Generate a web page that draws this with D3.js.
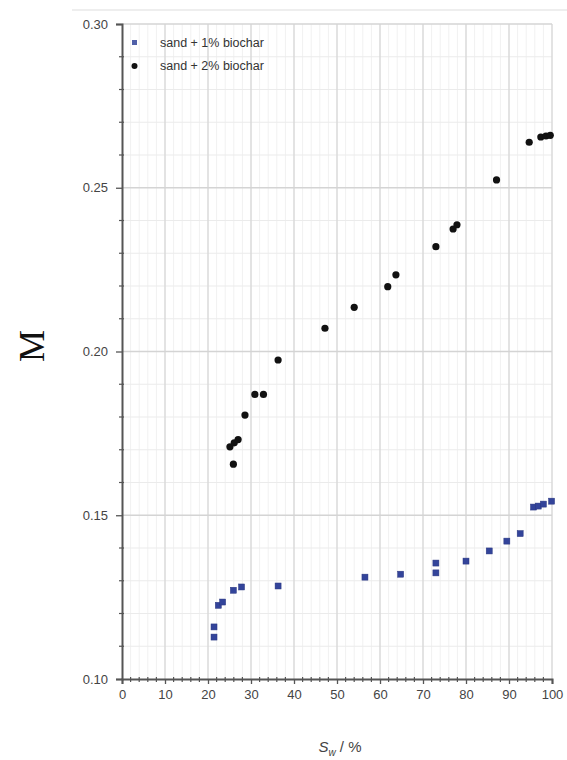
<!DOCTYPE html>
<html><head><meta charset="utf-8">
<script src="https://cdn.jsdelivr.net/npm/d3@7"></script>
<style>body{margin:0;background:#fff}svg{display:block}</style>
</head><body>
<svg id="c" width="567" height="760"></svg>
<script>
// Data: sand + 1% biochar (blue squares)
const s1x = [21.4,21.4,22.4,23.4,25.9,27.8,36.3,56.5,64.8,73.0,73.0,80.0,85.4,89.5,92.6,95.7,96.8,98.0,99.9];
const s1y = [0.1128,0.1159,0.1225,0.1235,0.1271,0.1281,0.1284,0.1311,0.1320,0.1324,0.1354,0.1360,0.1391,0.1421,0.1444,0.1525,0.1528,0.1534,0.1543];
// sand + 2% biochar (black circles)
const s2x = [25.9,25.1,26.1,27.0,28.6,30.9,32.9,36.3,47.2,54.0,61.8,63.7,73.0,77.0,77.9,87.1,94.7,97.4,98.6,99.6];
const s2y = [0.1656,0.1709,0.1721,0.1731,0.1806,0.1869,0.1869,0.1974,0.2071,0.2135,0.2198,0.2234,0.2320,0.2374,0.2387,0.2524,0.2639,0.2655,0.2658,0.2660];
const seriesNames = ["sand + 1% biochar","sand + 2% biochar"];
const xTicks = [0,10,20,30,40,50,60,70,80,90,100];
const yTicks = [0.10,0.15,0.20,0.25,0.30];

const svg = d3.select("#c");
const L=122, R=552, T=24, B=679;
const x = d3.scaleLinear().domain([0,100]).range([L,R]);
const y = d3.scaleLinear().domain([0.10,0.30]).range([B,T]);

// top stray line
svg.append("line").attr("x1",72).attr("x2",567).attr("y1",10).attr("y2",10).attr("stroke","#ddd").attr("stroke-width",1);

// minor grid
const g = svg.append("g");
const xMinor = d3.range(0,101,2).filter(v=>v%10!==0);
const yMinor = d3.range(10,31,1).map(v=>v/100).filter(v=>Math.round(v*100)%5!==0);
g.selectAll(".vmin").data(xMinor).join("line").attr("x1",d=>x(d)).attr("x2",d=>x(d)).attr("y1",T).attr("y2",B).attr("stroke","#f1f1f1").attr("stroke-width",1);
g.selectAll(".hmin").data(yMinor).join("line").attr("x1",L).attr("x2",R).attr("y1",d=>y(d)).attr("y2",d=>y(d)).attr("stroke","#ebebeb").attr("stroke-width",1.2);
g.selectAll(".vmaj").data(xTicks.slice(1)).join("line").attr("x1",d=>x(d)).attr("x2",d=>x(d)).attr("y1",T).attr("y2",B).attr("stroke","#dadada").attr("stroke-width",1.5);
g.selectAll(".hmaj").data(yTicks.slice(1)).join("line").attr("x1",L).attr("x2",R).attr("y1",d=>y(d)).attr("y2",d=>y(d)).attr("stroke","#d4d4d4").attr("stroke-width",1.5);

// axes
const xAxis = svg.append("g").attr("transform",`translate(0,${B})`)
  .call(d3.axisBottom(x).tickValues(xTicks).tickFormat(d3.format("d")).tickSize(5).tickPadding(6));
const yAxis = svg.append("g").attr("transform",`translate(${L},0)`)
  .call(d3.axisLeft(y).tickValues(yTicks).tickFormat(d3.format(".2f")).tickSize(6).tickPadding(8));
[xAxis,yAxis].forEach(a=>{
  a.select(".domain").attr("stroke","#555").attr("stroke-width",2);
  a.selectAll(".tick line").attr("stroke","#555").attr("stroke-width",1.3);
  a.selectAll("text").attr("fill","#444").attr("font-family","Liberation Sans, Arial, sans-serif").attr("font-size",13);
});
// minor ticks
svg.append("g").selectAll("line").data(xMinor).join("line")
  .attr("x1",d=>x(d)).attr("x2",d=>x(d)).attr("y1",B-2).attr("y2",B+3).attr("stroke","#555").attr("stroke-width",1.2);
svg.append("g").selectAll("line").data(yMinor).join("line")
  .attr("x1",L-3).attr("x2",L+2).attr("y1",d=>y(d)).attr("y2",d=>y(d)).attr("stroke","#555").attr("stroke-width",1.2);

// points
svg.append("g").selectAll("rect").data(s1x.map((v,i)=>[v,s1y[i]])).join("rect")
  .attr("x",d=>x(d[0])-3).attr("y",d=>y(d[1])-3).attr("width",6).attr("height",6)
  .attr("fill","#33449a").attr("stroke","#2a3780").attr("stroke-width",0.5);
svg.append("g").selectAll("circle").data(s2x.map((v,i)=>[v,s2y[i]])).join("circle")
  .attr("cx",d=>x(d[0])).attr("cy",d=>y(d[1])).attr("r",3.6).attr("fill","#111");

// legend
const lg = svg.append("g").attr("font-family","Liberation Sans, Arial, sans-serif").attr("font-size",12.5).attr("fill","#333");
lg.append("rect").attr("x",132).attr("y",40).attr("width",5).attr("height",5).attr("fill","#5060a8");
lg.append("circle").attr("cx",134.5).attr("cy",66).attr("r",3).attr("fill","#111");
lg.append("text").attr("x",160).attr("y",47).text(seriesNames[0]);
lg.append("text").attr("x",160).attr("y",70).text(seriesNames[1]);

// axis titles
const xt = svg.append("text").attr("x",340).attr("y",752).attr("text-anchor","middle")
  .attr("font-family","Liberation Sans, Arial, sans-serif").attr("font-size",15).attr("fill","#444");
xt.append("tspan").attr("font-style","italic").text("S");
xt.append("tspan").attr("font-style","italic").attr("font-size",10).attr("dy",4).text("w");
xt.append("tspan").attr("dy",-4).text(" / %");
svg.append("text").attr("transform","translate(44,346) rotate(-90)").attr("text-anchor","middle")
  .attr("font-family","Liberation Serif, Times New Roman, serif").attr("font-size",36).attr("fill","#111").text("M");
</script>
</body></html>
